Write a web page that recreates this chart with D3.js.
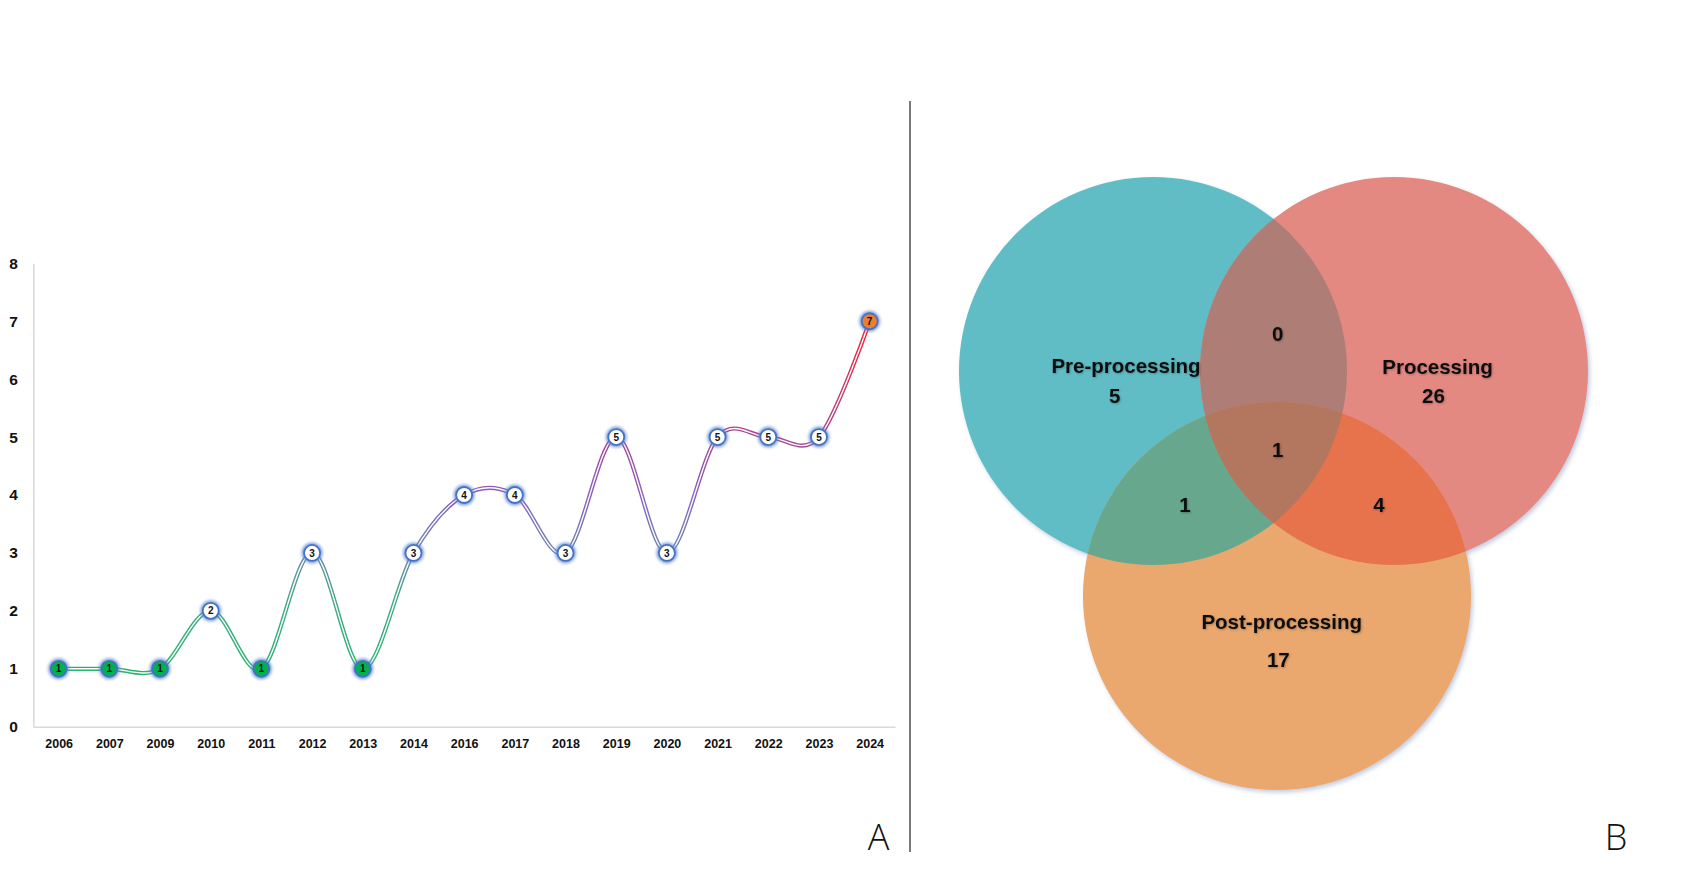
<!DOCTYPE html>
<html>
<head>
<meta charset="utf-8">
<script src="https://cdn.jsdelivr.net/npm/d3@7"></script>
<style>
  body { margin: 0; background: #fff; }
  svg { display: block; font-family: "Liberation Sans", Arial, sans-serif; }
</style>
</head>
<body>
<div id="chart"></div>
<script>
// panel A: papers per year
const years = ["2006", "2007", "2009", "2010", "2011", "2012", "2013", "2014", "2016",
  "2017", "2018", "2019", "2020", "2021", "2022", "2023", "2024"];
const counts = [1, 1, 1, 2, 1, 3, 1, 3, 4, 4, 3, 5, 3, 5, 5, 5, 7];
const yTicks = [0, 1, 2, 3, 4, 5, 6, 7, 8];

// panel B: venn of pipeline stages
const stageNames = ["Pre-processing", "Processing", "Post-processing"];
const stageOnly = [5, 26, 17];
const pairKeys = ["AB", "AC", "BC"];
const pairCounts = [0, 1, 4];
const allThree = 1;

const width = 1698, height = 876;

const svg = d3.select("#chart").append("svg")
  .attr("width", width)
  .attr("height", height);

const defs = svg.append("defs");

// ---------- panel A ----------
const x = d3.scalePoint().domain(years).range([33.3, 895]).padding(0.5);
const y = d3.scaleLinear().domain([0, 8]).range([726.7, 263.3]);

const gA = svg.append("g");

gA.append("g")
  .attr("transform", `translate(${x.range()[0]},0)`)
  .call(d3.axisLeft(y).tickValues(yTicks).tickFormat(d3.format("d")).tickSize(0).tickSizeOuter(0).tickPadding(15.5))
  .call(g => g.select(".domain").attr("stroke", "#d9d9d9").attr("stroke-width", 1.5))
  .call(g => g.selectAll("text")
    .attr("font-size", 15.5).attr("font-weight", "bold").attr("fill", "#111")
    .attr("font-family", "Liberation Sans, Arial, sans-serif"));

gA.append("g")
  .attr("transform", `translate(0,${y(0)})`)
  .call(d3.axisBottom(x).tickSize(0).tickSizeOuter(0).tickPadding(12.5))
  .call(g => g.select(".domain").attr("stroke", "#d9d9d9").attr("stroke-width", 1.5))
  .call(g => g.selectAll("text")
    .attr("font-size", 12.5).attr("font-weight", "bold").attr("fill", "#111")
    .attr("font-family", "Liberation Sans, Arial, sans-serif"));

// gradient runs with the value: green low, red high
const grad = defs.append("linearGradient")
  .attr("id", "lineGrad")
  .attr("gradientUnits", "userSpaceOnUse")
  .attr("x1", 0).attr("x2", 0)
  .attr("y1", y(1)).attr("y2", y(7));
[
  [0, "#27b46c"],
  [0.18, "#3faa84"],
  [0.34, "#6c86ac"],
  [0.5, "#8a5ec2"],
  [0.67, "#a8448f"],
  [0.8, "#c63a6a"],
  [1, "#f71d2b"]
].forEach(([o, c]) => grad.append("stop").attr("offset", o).attr("stop-color", c));

const line = d3.line()
  .x((d, i) => x(years[i]))
  .y(d => y(d))
  .curve(d3.curveCatmullRom.alpha(0));

gA.append("path")
  .attr("d", line(counts))
  .attr("fill", "none")
  .attr("stroke", "url(#lineGrad)")
  .attr("stroke-width", 4.2);

gA.append("path")
  .attr("d", line(counts))
  .attr("fill", "none")
  .attr("stroke", "#fff")
  .attr("stroke-width", 1.4);

const glow = defs.append("filter").attr("id", "glow")
  .attr("x", "-50%").attr("y", "-50%").attr("width", "200%").attr("height", "200%");
glow.append("feGaussianBlur").attr("stdDeviation", 1.6);

const maxCount = d3.max(counts);
const markerFill = d => d === 1 ? "#00b050" : d === maxCount ? "#ed7d31" : "#fff";

const marks = gA.append("g")
  .selectAll("g")
  .data(counts)
  .join("g")
  .attr("transform", (d, i) => `translate(${x(years[i])},${y(d)})`);

marks.append("circle")
  .attr("r", 10.5)
  .attr("fill", "#5a82d2")
  .attr("opacity", 0.75)
  .attr("filter", "url(#glow)");

marks.append("circle")
  .attr("r", 8)
  .attr("fill", markerFill)
  .attr("stroke", "#4472c4")
  .attr("stroke-width", 1.8);

marks.append("text")
  .attr("text-anchor", "middle")
  .attr("dy", "0.36em")
  .attr("font-size", 10)
  .attr("font-weight", "bold")
  .attr("fill", "#111")
  .text(d => d);

// divider between panels
svg.append("line")
  .attr("x1", 910).attr("x2", 910)
  .attr("y1", 101).attr("y2", 852)
  .attr("stroke", "#404040")
  .attr("stroke-width", 1.4);

svg.selectAll(".panel-label")
  .data([["A", 878.5], ["B", 1616]])
  .join("text")
  .attr("class", "panel-label")
  .attr("x", d => d[1])
  .attr("y", 850)
  .attr("text-anchor", "middle")
  .attr("font-family", "Open Sans, Noto Sans, sans-serif")
  .attr("font-weight", 300)
  .attr("font-size", 36)
  .attr("fill", "#111")
  .text(d => d[0]);

// ---------- panel B ----------
const r = 194;
const circles = [
  { key: "A", cx: 1153, cy: 371, fill: "#61bdc6" },
  { key: "B", cx: 1394, cy: 371, fill: "#e48982" },
  { key: "C", cx: 1277, cy: 596, fill: "#eaa76e" }
];
const overlapFill = { AB: "#ae7e76", AC: "#66a78e", BC: "#e7734d", ABC: "#b3765f" };

circles.forEach(c => {
  defs.append("clipPath").attr("id", "clip" + c.key)
    .append("circle").attr("cx", c.cx).attr("cy", c.cy).attr("r", r);
});

const shadow = defs.append("filter").attr("id", "vennShadow")
  .attr("x", "-10%").attr("y", "-10%").attr("width", "120%").attr("height", "120%");
shadow.append("feDropShadow")
  .attr("dx", 2).attr("dy", 2.5).attr("stdDeviation", 2)
  .attr("flood-color", "#7d8fb8").attr("flood-opacity", 0.45);

const gB = svg.append("g").attr("filter", "url(#vennShadow)");
const byKey = Object.fromEntries(circles.map(c => [c.key, c]));

gB.selectAll("circle.set")
  .data(circles)
  .join("circle")
  .attr("class", "set")
  .attr("cx", d => d.cx).attr("cy", d => d.cy).attr("r", r)
  .attr("fill", d => d.fill);

pairKeys.forEach(k => {
  const top = byKey[k[1]];
  gB.append("circle")
    .attr("cx", top.cx).attr("cy", top.cy).attr("r", r)
    .attr("clip-path", `url(#clip${k[0]})`)
    .attr("fill", overlapFill[k]);
});

gB.append("g").attr("clip-path", "url(#clipA)")
  .append("circle")
  .attr("cx", byKey.C.cx).attr("cy", byKey.C.cy).attr("r", r)
  .attr("clip-path", "url(#clipB)")
  .attr("fill", overlapFill.ABC);

const tShadow = defs.append("filter").attr("id", "textShadow")
  .attr("x", "-20%").attr("y", "-40%").attr("width", "140%").attr("height", "180%");
tShadow.append("feDropShadow")
  .attr("dx", 0.8).attr("dy", 0.8).attr("stdDeviation", 0.9)
  .attr("flood-color", "#000").attr("flood-opacity", 0.3);

const vennLabels = [
  { t: stageNames[0], x: 1126, y: 373.3 },
  { t: stageOnly[0], x: 1114.7, y: 402.7 },
  { t: stageNames[1], x: 1437.5, y: 374 },
  { t: stageOnly[1], x: 1433.5, y: 403.3 },
  { t: stageNames[2], x: 1281.7, y: 629.3 },
  { t: stageOnly[2], x: 1278.3, y: 666.7 },
  { t: pairCounts[0], x: 1277.7, y: 340.7 },
  { t: pairCounts[1], x: 1185, y: 511.7 },
  { t: pairCounts[2], x: 1379, y: 511.7 },
  { t: allThree, x: 1277.7, y: 457.3 }
];

svg.append("g")
  .attr("filter", "url(#textShadow)")
  .selectAll("text")
  .data(vennLabels)
  .join("text")
  .attr("x", d => d.x)
  .attr("y", d => d.y)
  .attr("text-anchor", "middle")
  .attr("font-size", 20.5)
  .attr("font-weight", "bold")
  .attr("fill", "#111")
  .text(d => d.t);
</script>
</body>
</html>
